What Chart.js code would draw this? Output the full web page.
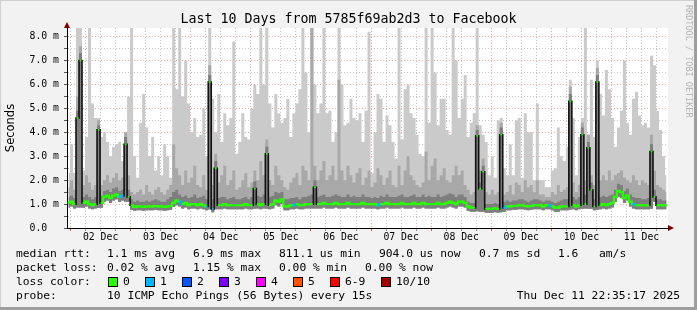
<!DOCTYPE html>
<html>
<head>
<meta charset="utf-8">
<script src="https://cdn.jsdelivr.net/npm/chart.js@4/dist/chart.umd.min.js"></script>
<style>
html, body { margin: 0; padding: 0; background: #f2f2f2; }
#wrap { position: relative; width: 697px; height: 310px; overflow: hidden; }
#wrap canvas { position: absolute; left: 0; top: 0; }
.txt { position: absolute; font-family: 'DejaVu Sans Mono', monospace; font-size: 11.3px; line-height: 12px; white-space: pre; color: #000; }
.sw { position: absolute; width: 8px; height: 8px; border: 1px solid #000; }
#title { position: absolute; left: 0; top: 11px; width: 697px; text-align: center; font-family: 'DejaVu Sans Mono', monospace; font-size: 13.3px; line-height: 16px; color: #000; }
#brand { position: absolute; left: 684px; top: 5px; writing-mode: vertical-rl; font-family: 'DejaVu Sans Mono', monospace; font-size: 8.5px; color: #b4b4b4; }
</style>
</head>
<body>
<div id="wrap">
  <canvas id="canvas" width="697" height="310"></canvas>
  <div id="title">Last 10 Days from 5785f69ab2d3 to Facebook</div>
  <div id="brand">RRDTOOL / TOBI OETIKER</div>
</div>
<script>
// time axis: hours since Dec 1 22:35:17, one sample every 72 minutes
var stepHours = 1.2;
var firstMidnight = 1.412;   // Dec 2 00:00
var dayLabels = ['02 Dec', '03 Dec', '04 Dec', '05 Dec', '06 Dec', '07 Dec', '08 Dec', '09 Dec', '10 Dec', '11 Dec'];
var yTickValues = [0, 0.5, 1, 1.5, 2, 2.5, 3, 3.5, 4, 4.5, 5, 5.5, 6, 6.5, 7, 7.5, 8];

// values in ms
var medianRtt = [
  1.05, 1.1, 1.0, 4.6, 7.0, 1.05, 1.1, 1.0, 0.95, 1.0,
  4.1, 1.05, 1.3, 1.35, 1.25, 1.35, 1.4, 1.3, 1.35, 3.5,
  1.3, 0.95, 0.88, 0.9, 0.9, 0.88, 0.9, 0.9, 0.9, 0.92,
  0.9, 0.9, 0.88, 0.9, 0.92, 1.05, 1.15, 1.1, 1.0, 1.05,
  0.95, 1.0, 1.0, 0.95, 1.0, 0.95, 0.9, 6.1, 0.8, 2.5,
  0.95, 0.95, 1.0, 0.95, 0.95, 0.95, 0.95, 0.95, 0.95, 1.0,
  0.95, 0.95, 1.65, 1.0, 0.95, 1.0, 3.1, 0.95, 1.0, 1.15,
  1.1, 1.2, 0.9, 0.9, 0.95, 0.95, 1.0, 0.95, 0.95, 1.0,
  1.0, 1.0, 1.7, 1.0, 1.0, 1.05, 1.0, 1.0, 1.0, 1.05,
  1.0, 1.0, 1.0, 1.05, 1.0, 1.0, 1.0, 1.0, 1.05, 1.0,
  1.0, 1.0, 1.0, 0.95, 1.0, 1.0, 1.05, 1.0, 1.0, 1.0,
  1.0, 1.05, 1.0, 1.0, 1.0, 1.05, 1.0, 1.0, 1.05, 1.0,
  1.0, 1.0, 1.0, 1.05, 1.0, 1.0, 1.05, 1.1, 1.05, 1.0,
  1.1, 1.1, 1.05, 0.9, 0.85, 0.85, 3.85, 1.64, 2.35, 0.8,
  0.8, 0.8, 0.82, 0.8, 3.9, 0.85, 0.9, 0.9, 0.92, 0.92,
  0.95, 0.95, 0.92, 0.9, 0.92, 0.95, 0.95, 0.95, 0.9, 0.95,
  0.95, 0.9, 0.85, 0.85, 0.9, 0.9, 0.9, 5.3, 0.95, 0.9,
  0.95, 3.9, 1.0, 3.35, 1.6, 0.9, 6.1, 0.95, 1.0, 0.95,
  1.0, 1.05, 1.3, 1.55, 1.5, 1.25, 1.35, 1.1, 1.0, 0.95,
  0.95, 0.95, 0.95, 0.95, 3.2, 1.3, 0.95, 0.95, 0.95, 0.95
];

var minRtt = [
  0.85, 0.9, 0.82, 0.86, 0.86, 0.85, 0.9, 0.82, 0.78, 0.82,
  0.84, 0.85, 1.1, 1.15, 1.05, 1.15, 1.2, 1.1, 1.15, 1.1,
  1.1, 0.75, 0.72, 0.74, 0.74, 0.72, 0.74, 0.74, 0.74, 0.76,
  0.74, 0.74, 0.72, 0.74, 0.76, 0.88, 0.95, 0.9, 0.82, 0.86,
  0.78, 0.82, 0.82, 0.78, 0.82, 0.78, 0.74, 0.78, 0.66, 0.78,
  0.78, 0.78, 0.82, 0.78, 0.78, 0.78, 0.78, 0.78, 0.78, 0.82,
  0.78, 0.78, 0.8, 0.82, 0.78, 0.82, 0.8, 0.78, 0.82, 0.95,
  0.9, 1.0, 0.74, 0.74, 0.78, 0.78, 0.82, 0.78, 0.78, 0.82,
  0.82, 0.82, 0.82, 0.82, 0.82, 0.86, 0.82, 0.82, 0.82, 0.86,
  0.82, 0.82, 0.82, 0.86, 0.82, 0.82, 0.82, 0.82, 0.86, 0.82,
  0.82, 0.82, 0.82, 0.78, 0.82, 0.82, 0.86, 0.82, 0.82, 0.82,
  0.82, 0.86, 0.82, 0.82, 0.82, 0.86, 0.82, 0.82, 0.86, 0.82,
  0.82, 0.82, 0.82, 0.86, 0.82, 0.82, 0.86, 0.9, 0.86, 0.82,
  0.9, 0.9, 0.86, 0.72, 0.68, 0.68, 0.7, 0.68, 0.68, 0.64,
  0.64, 0.64, 0.66, 0.64, 0.66, 0.68, 0.74, 0.74, 0.76, 0.76,
  0.78, 0.78, 0.76, 0.74, 0.76, 0.78, 0.78, 0.78, 0.74, 0.78,
  0.78, 0.74, 0.68, 0.68, 0.74, 0.74, 0.74, 0.76, 0.78, 0.74,
  0.78, 0.8, 0.82, 0.8, 0.8, 0.74, 0.76, 0.78, 0.82, 0.78,
  0.82, 0.86, 1.1, 1.3, 1.25, 1.05, 1.15, 0.9, 0.82, 0.78,
  0.78, 0.78, 0.78, 0.78, 0.8, 1.1, 0.78, 0.78, 0.78, 0.78
];

// 6th and 8th of the ten sorted pings
var ping6 = [
  1.3, 1.35, 1.25, 4.9, 7.3, 1.3, 1.4, 1.3, 1.2, 1.3,
  4.3, 1.35, 1.55, 1.6, 1.5, 1.65, 1.7, 1.55, 1.6, 3.8,
  1.6, 1.2, 1.1, 1.15, 1.1, 1.1, 1.15, 1.1, 1.15, 1.2,
  1.15, 1.1, 1.1, 1.2, 1.3, 1.5, 1.6, 1.4, 1.3, 1.35,
  1.25, 1.3, 1.4, 1.25, 1.3, 1.35, 1.2, 6.4, 1.2, 2.8,
  1.25, 1.3, 1.3, 1.2, 1.25, 1.3, 1.2, 1.2, 1.25, 1.3,
  1.2, 1.3, 1.95, 1.35, 1.3, 1.4, 3.4, 1.3, 1.35, 1.5,
  1.45, 1.5, 1.2, 1.2, 1.25, 1.25, 1.3, 1.2, 1.3, 1.3,
  1.35, 1.4, 2.0, 1.3, 1.35, 1.4, 1.3, 1.3, 1.35, 1.4,
  1.35, 1.3, 1.3, 1.4, 1.3, 1.35, 1.3, 1.3, 1.4, 1.3,
  1.3, 1.25, 1.3, 1.25, 1.35, 1.3, 1.4, 1.3, 1.3, 1.3,
  1.35, 1.4, 1.3, 1.3, 1.35, 1.4, 1.3, 1.3, 1.4, 1.3,
  1.35, 1.3, 1.3, 1.4, 1.3, 1.35, 1.4, 1.45, 1.4, 1.3,
  1.4, 1.4, 1.3, 1.1, 1.05, 1.05, 4.1, 1.9, 2.6, 1.0,
  1.0, 1.0, 1.05, 1.0, 4.2, 1.1, 1.15, 1.1, 1.15, 1.15,
  1.2, 1.2, 1.15, 1.1, 1.15, 1.2, 1.2, 1.15, 1.1, 1.15,
  1.15, 1.1, 1.05, 1.1, 1.15, 1.2, 1.2, 5.6, 1.3, 1.2,
  1.3, 4.2, 1.4, 3.6, 1.9, 1.2, 6.4, 1.3, 1.35, 1.3,
  1.35, 1.4, 1.6, 1.85, 1.8, 1.55, 1.65, 1.4, 1.3, 1.25,
  1.25, 1.2, 1.2, 1.25, 3.5, 1.6, 1.2, 1.2, 1.15, 1.15
];

var ping8 = [
  1.7, 2.0, 1.6, 5.5, 7.6, 1.8, 2.2, 1.9, 1.6, 1.8,
  4.5, 1.8, 2.0, 2.2, 1.9, 2.1, 2.3, 2.0, 2.1, 4.0,
  2.2, 1.5, 1.4, 1.5, 1.6, 1.4, 1.8, 1.5, 1.4, 1.6,
  1.7, 1.5, 1.4, 1.6, 1.8, 3.5, 2.5, 2.2, 1.8, 2.4,
  1.9, 2.1, 2.6, 1.8, 1.7, 2.2, 1.6, 6.8, 1.8, 3.1,
  1.9, 2.2, 2.6, 1.8, 2.0, 2.4, 1.6, 1.7, 2.0, 2.3,
  1.7, 1.9, 2.4, 2.0, 2.8, 2.2, 3.7, 2.0, 1.8, 2.6,
  2.2, 2.0, 1.7, 1.6, 1.9, 2.1, 2.3, 1.8, 2.6, 2.4,
  2.0, 8.4, 2.6, 2.0, 2.4, 2.8, 2.0, 2.2, 2.6, 2.0,
  6.2, 2.4, 2.0, 2.6, 2.2, 1.9, 2.3, 2.5, 1.8, 2.1,
  2.4, 1.7, 1.9, 2.5, 2.2, 1.8, 2.1, 2.4, 1.8, 1.7,
  2.6, 1.8, 2.4, 3.0, 2.2, 2.0, 1.8, 1.7, 1.9, 3.2,
  2.0, 2.6, 2.9, 2.0, 2.2, 2.5, 2.0, 1.9, 2.2, 2.6,
  2.2, 2.4, 1.8, 1.6, 1.4, 1.5, 4.3, 2.4, 2.9, 1.5,
  1.4, 1.6, 1.4, 1.5, 4.4, 1.4, 1.5, 1.8, 1.4, 1.9,
  1.8, 1.5, 2.0, 1.7, 1.8, 1.5, 2.0, 1.4, 1.4, 1.3,
  1.3, 1.5, 1.4, 1.8, 1.5, 1.6, 1.7, 5.9, 1.9, 1.5,
  1.8, 4.4, 2.0, 3.9, 2.2, 1.8, 6.7, 2.0, 2.2, 2.0,
  2.4, 2.0, 2.2, 2.3, 2.4, 2.1, 2.0, 1.9, 2.2, 2.0,
  1.8, 2.0, 1.9, 1.8, 3.9, 2.4, 1.8, 1.7, 1.6, 1.5
];

var maxRtt = [
  2.3, 3.5, 2.3, 8.4, 8.4, 2.4, 3.8, 8.4, 5.2, 4.6,
  4.6, 3.8, 4.0, 3.6, 3.0, 3.4, 3.5, 3.6, 2.8, 4.0,
  5.5, 8.4, 3.0, 2.1, 4.4, 5.6, 4.2, 3.0, 3.8, 2.4,
  3.0, 2.2, 3.5, 3.0, 2.1, 8.4, 5.8, 8.4, 5.5, 7.0,
  5.2, 4.0, 4.6, 3.8, 3.9, 5.0, 3.0, 8.4, 5.4, 4.0,
  5.6, 3.6, 4.8, 4.3, 4.6, 7.8, 3.1, 3.6, 4.8, 3.8,
  3.7, 5.0, 6.0, 5.6, 8.4, 6.0, 8.4, 5.2, 4.2, 5.6,
  4.8, 4.4, 4.6, 5.4, 3.8, 4.8, 5.2, 5.8, 8.4, 6.5,
  4.0, 8.4, 6.0, 4.8, 5.2, 8.4, 4.8, 4.9, 3.6, 4.0,
  8.4, 6.0, 4.3, 4.4, 5.4, 4.6, 4.5, 4.8, 3.6, 4.9,
  8.2, 2.3, 4.0, 5.6, 5.4, 3.6, 4.7, 4.3, 3.6, 2.9,
  8.4, 3.7, 5.8, 6.0, 4.8, 4.6, 3.9, 3.1, 3.0, 8.4,
  4.4, 8.4, 6.5, 4.3, 5.4, 5.4, 4.1, 3.9, 8.4, 7.0,
  4.6, 5.4, 6.4, 3.8, 4.4, 4.8, 8.4, 4.3, 3.9, 3.6,
  2.2, 3.0, 2.1, 4.5, 4.6, 2.5, 2.2, 3.5, 2.2, 4.5,
  4.6, 2.1, 4.8, 4.0, 4.0, 2.0, 5.2, 2.0, 2.0, 1.7,
  1.7, 2.4, 2.5, 4.2, 3.0, 2.8, 3.4, 6.2, 4.6, 2.2,
  3.8, 4.6, 8.4, 3.9, 6.2, 3.8, 7.0, 5.6, 4.7, 6.6,
  5.8, 4.6, 3.4, 4.2, 4.9, 7.0, 4.4, 3.9, 5.4, 5.7,
  4.7, 4.3, 4.4, 4.2, 7.2, 6.8, 4.9, 4.1, 3.0, 2.2
];

// samples where one of ten pings was lost
var lossOnePoints = [17, 18, 37, 46, 48, 75, 103, 145, 160, 188];

var lossColors = ['#26ff00', '#00b8ff', '#0059ff', '#7e00ff', '#ff00ff', '#ff5500', '#ff0000', '#a10000'];
var lossLabels = ['0', '1', '2', '3', '4', '5', '6-9', '10/10'];

var green = lossColors[0], cyan = lossColors[1];
var mgrid = 'rgba(230, 90, 90, 0.55)';
var grid = 'rgba(150, 150, 150, 0.55)';

function pts(arr) {
    return arr.map(function(v, i) { return {x: (i + 0.5) * stepHours, y: v}; });
}
function bigJump(c) {
    return Math.abs(c.p1.parsed.y - c.p0.parsed.y) > 0.35;
}

var frame = {
    id: 'frame',
    beforeDraw: function(chart) {
        var ctx = chart.ctx, a = chart.chartArea;
        ctx.save();
        ctx.fillStyle = '#ffffff';
        ctx.fillRect(a.left, a.top, a.right - a.left, a.bottom - a.top);
        ctx.restore();
    },
    afterDraw: function(chart) {
        var ctx = chart.ctx, a = chart.chartArea;
        ctx.save();
        ctx.fillStyle = '#7f0000';
        ctx.beginPath();
        ctx.moveTo(a.left - 3, a.top);
        ctx.lineTo(a.left + 3, a.top);
        ctx.lineTo(a.left, a.top - 6);
        ctx.fill();
        ctx.beginPath();
        ctx.moveTo(a.right, a.bottom - 3);
        ctx.lineTo(a.right, a.bottom + 3);
        ctx.lineTo(a.right + 6, a.bottom);
        ctx.fill();
        ctx.fillStyle = '#d0d0d0';
        ctx.fillRect(0, 0, 697, 1);
        ctx.fillRect(0, 0, 1, 310);
        ctx.fillStyle = '#9e9e9e';
        ctx.fillRect(694, 0, 3, 310);
        ctx.fillRect(0, 307, 697, 3);
        ctx.restore();
    }
};

var smokeDataset = function(label, values, order, colour, fillTo) {
    return {
        label: label,
        data: pts(values),
        order: order,
        stepped: 'middle',
        borderWidth: 0,
        borderColor: 'rgba(0,0,0,0)',
        pointRadius: 0,
        backgroundColor: colour,
        fill: fillTo
    };
};

var ctx = document.getElementById('canvas').getContext('2d');
window.smokeChart = new Chart(ctx, {
    type: 'line',
    plugins: [frame],
    data: {
        datasets: [{
            label: 'median',
            data: pts(medianRtt),
            order: 0,
            stepped: 'middle',
            borderColor: green,
            borderWidth: 2.2,
            pointStyle: 'rect',
            pointRadius: 1.3,
            pointBorderWidth: 0,
            pointBackgroundColor: function(c) { return lossOnePoints.indexOf(c.dataIndex) >= 0 ? cyan : green; },
            segment: {
                borderColor: function(c) {
                    if (bigJump(c)) return '#111111';
                    return lossOnePoints.indexOf(c.p0DataIndex) >= 0 ? cyan : green;
                },
                borderWidth: function(c) { return bigJump(c) ? 1.6 : 2.2; }
            }
        },
        smokeDataset('ping6', ping6, 1, '#7e7e7e', 4),
        smokeDataset('ping8', ping8, 2, '#a8a8a8', 4),
        smokeDataset('max', maxRtt, 3, '#cacaca', 4),
        smokeDataset('min', minRtt, 4, 'rgba(0,0,0,0)', false)]
    },
    options: {
        responsive: false,
        animation: false,
        events: [],
        layout: { padding: { top: 28, right: 29, bottom: 62, left: 0 } },
        plugins: {
            legend: { display: false },
            title: { display: false },
            tooltip: { enabled: false }
        },
        scales: {
            x: {
                type: 'linear',
                min: 0,
                max: 240,
                z: 1,
                afterBuildTicks: function(s) {
                    var t = [];
                    for (var k = 0; firstMidnight + 6 * k < 240; k++) t.push({value: firstMidnight + 6 * k});
                    s.ticks = t;
                },
                afterFit: function(s) { s.height = 20; },
                ticks: {
                    autoSkip: false,
                    maxRotation: 0,
                    padding: 1,
                    color: '#000',
                    font: { family: 'DejaVu Sans Mono', size: 9.8 },
                    callback: function(v, i) { return i % 4 === 2 ? dayLabels[Math.floor(i / 4)] : ''; }
                },
                grid: {
                    color: function(c) { return c.index % 4 === 0 ? mgrid : grid; },
                    tickColor: function(c) { return c.index % 4 === 0 ? '#e05050' : '#999'; },
                    tickLength: 3,
                    tickBorderDash: [],
                    lineWidth: 1
                },
                border: { color: '#000', width: 1, dash: [1, 2] }
            },
            y: {
                min: 0,
                max: 8.36,
                z: 1,
                afterBuildTicks: function(s) {
                    s.ticks = yTickValues.map(function(v) { return {value: v}; });
                },
                afterFit: function(s) { s.width = 67; },
                ticks: {
                    autoSkip: false,
                    padding: 5,
                    color: '#000',
                    font: { family: 'DejaVu Sans Mono', size: 9.8 },
                    callback: function(v) {
                        if (v % 1 !== 0) return '';
                        return v === 0 ? '0.0  ' : v.toFixed(1) + ' m';
                    }
                },
                grid: {
                    color: function(c) { return c.tick && c.tick.value % 1 === 0 ? mgrid : grid; },
                    tickColor: '#555',
                    tickLength: 3,
                    tickBorderDash: [],
                    lineWidth: 1
                },
                border: { color: '#000', width: 1, dash: [1, 2] },
                title: {
                    display: true,
                    text: 'Seconds',
                    color: '#000',
                    font: { family: 'DejaVu Sans', size: 11.5 },
                    padding: { top: 4, bottom: 0 }
                }
            }
        }
    }
});

// legend block under the graph
var rows = [
    [254.3, [[16, 'median rtt:'], [107, '1.1 ms avg'], [193, '6.9 ms max'], [279, '811.1 us min'], [379, '904.0 us now'], [479, '0.7 ms sd'], [558, '1.6'], [599, 'am/s']]],
    [268.3, [[16, 'packet loss:'], [107, '0.02 % avg'], [193, '1.15 % max'], [279, '0.00 % min'], [365, '0.00 % now']]],
    [282.3, [[16, 'loss color:']]],
    [296.3, [[16, 'probe:'], [107, '10 ICMP Echo Pings (56 Bytes) every 15s']]]
];
var wrap = document.getElementById('wrap');
function addText(x, yc, s, right) {
    var d = document.createElement('div');
    d.className = 'txt';
    d.textContent = s;
    d.style.top = (yc - 6) + 'px';
    if (right) d.style.right = (697 - x) + 'px'; else d.style.left = x + 'px';
    wrap.appendChild(d);
}
rows.forEach(function(r) {
    r[1].forEach(function(p) { addText(p[0], r[0], p[1]); });
});
var swatchX = [108, 145, 182, 219, 256, 293, 330, 381];
lossColors.forEach(function(col, i) {
    var b = document.createElement('div');
    b.className = 'sw';
    b.style.left = swatchX[i] + 'px';
    b.style.top = '277px';
    b.style.background = col;
    wrap.appendChild(b);
    addText(swatchX[i] + 15, 282.3, lossLabels[i]);
});
addText(680, 296.3, 'Thu Dec 11 22:35:17 2025', true);
</script>
</body>
</html>
